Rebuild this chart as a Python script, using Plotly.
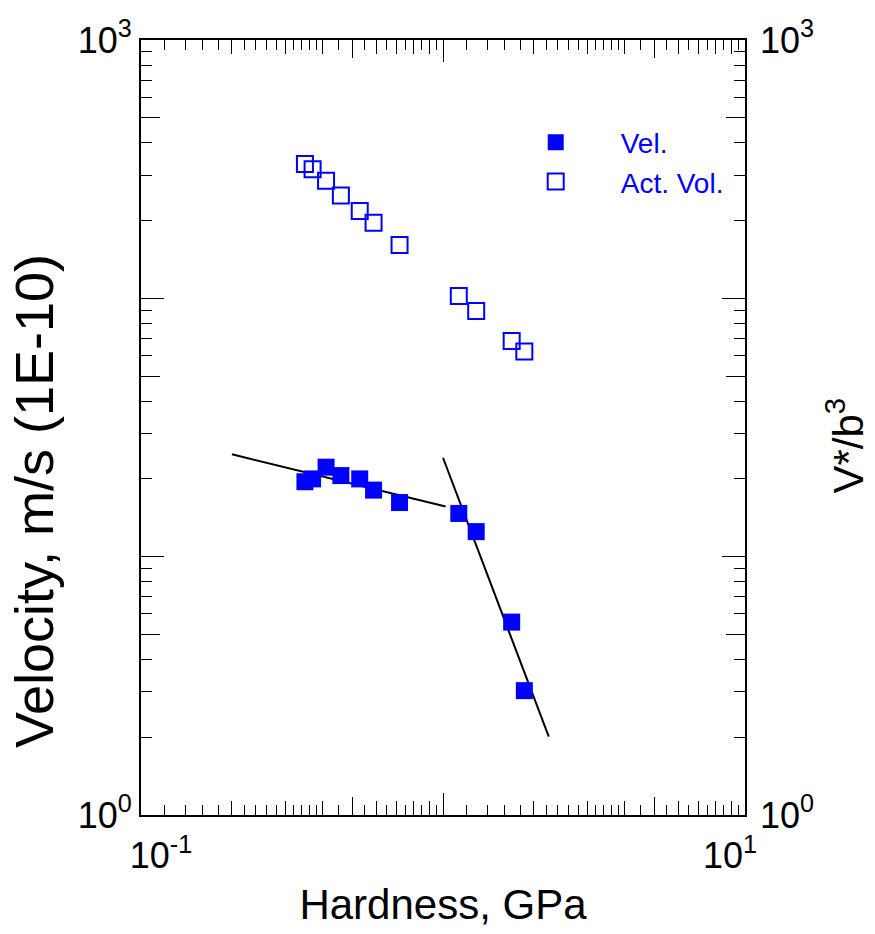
import plotly.graph_objects as go

# ---- data ----
hardness = [0.349, 0.370, 0.410, 0.459, 0.530, 0.589, 0.718, 1.128, 1.288, 1.688, 1.859]
velocity = [19.5, 20.0, 22.2, 20.6, 20.0, 18.1, 16.2, 14.7, 12.5, 5.58, 3.03]
act_vol = [331, 316, 285, 250, 218, 196, 161, 102, 89.3, 68.3, 62.3]
fit_low_x = [0.2, 1.02]
fit_low_y = [24.9, 15.65]
fit_high_x = [1.0, 2.24]
fit_high_y = [24.15, 2.01]

NB = "\u00a0"
x_decades = [0.1, 1, 10]
x_decade_text = [NB * 4 + "10<sup>-1</sup>", "", "10<sup>1</sup>" + NB * 3]
y_decades = [1, 10, 100, 1000]
y_decade_text = ["10<sup>0</sup>", "", "", "10<sup>3</sup>"]

x_sub_mult = [1.2, 1.4, 1.6, 1.8, 2.2, 2.4, 2.6, 2.8, 3.2, 3.4, 3.6, 3.8, 4.5, 5.5, 6.5, 7.5, 8.5, 9.5]
int_mult = [2, 3, 4, 6, 7, 8, 9]
half_mult = [5]

x_sub = [m * d for d in [0.1, 1] for m in x_sub_mult]
x_int = [m * d for d in [0.1, 1] for m in int_mult]
x_half = [m * d for d in [0.1, 1] for m in half_mult]
y_int = [m * d for d in [1, 10, 100] for m in int_mult]
y_half = [m * d for d in [1, 10, 100] for m in half_mult]

FONT = "Liberation Sans, Arial, sans-serif"
BLUE = "#0000ff"

fig = go.Figure()

fig.add_trace(go.Scatter(x=fit_low_x, y=fit_low_y, mode="lines",
                         line=dict(color="black", width=2), showlegend=False, hoverinfo="skip"))
fig.add_trace(go.Scatter(x=fit_high_x, y=fit_high_y, mode="lines",
                         line=dict(color="black", width=2), showlegend=False, hoverinfo="skip"))
fig.add_trace(go.Scatter(x=hardness, y=velocity, mode="markers", name="Vel.",
                         marker=dict(symbol="square", size=17, color=BLUE, line=dict(width=0))))
fig.add_trace(go.Scatter(x=hardness, y=act_vol, mode="markers", name="Act. Vol.",
                         marker=dict(symbol="square-open", size=16, color=BLUE, line=dict(width=2, color=BLUE))))
# invisible carriers for the overlay axes (tick decoration only)
fig.add_trace(go.Scatter(x=hardness, y=velocity, xaxis="x2", yaxis="y3", mode="markers",
                         marker=dict(opacity=0), showlegend=False, hoverinfo="skip"))
fig.add_trace(go.Scatter(x=hardness, y=act_vol, xaxis="x", yaxis="y2", mode="markers",
                         marker=dict(opacity=0), showlegend=False, hoverinfo="skip"))

tickfont = dict(family=FONT, size=36, color="black")

fig.update_layout(
    width=875, height=934,
    margin=dict(l=141, r=130, t=40, b=119),
    paper_bgcolor="white", plot_bgcolor="white",
    font=dict(family=FONT, color="black"),
    xaxis=dict(type="log", range=[-1, 1], showgrid=False, zeroline=False,
               showline=True, linecolor="black", linewidth=2, mirror="ticks",
               ticks="inside", tickmode="array", tickvals=x_decades, ticktext=x_decade_text,
               ticklen=22, tickwidth=1, tickcolor="black", tickfont=tickfont,
               ticklabelstandoff=8,
               minor=dict(tickmode="array", tickvals=x_sub, ticks="inside", ticklen=10,
                          tickwidth=1, tickcolor="black", showgrid=False),
               title=dict(text="Hardness, GPa", font=dict(family=FONT, size=42), standoff=14)),
    xaxis2=dict(type="log", range=[-1, 1], overlaying="x", anchor="y", side="bottom",
                showgrid=False, zeroline=False, showline=False, mirror="ticks",
                ticks="inside", tickmode="array", tickvals=x_half, ticklen=18, tickwidth=1,
                tickcolor="black", showticklabels=False,
                minor=dict(tickmode="array", tickvals=x_int, ticks="inside", ticklen=14,
                           tickwidth=1, tickcolor="black", showgrid=False)),
    yaxis=dict(type="log", range=[0, 3], showgrid=False, zeroline=False,
               showline=True, linecolor="black", linewidth=2, mirror="ticks",
               ticks="inside", tickmode="array", tickvals=y_decades, ticktext=y_decade_text,
               ticklen=23, tickwidth=1, tickcolor="black", tickfont=tickfont,
               minor=dict(tickmode="array", tickvals=y_int, ticks="inside", ticklen=11,
                          tickwidth=1, tickcolor="black", showgrid=False)),
    yaxis2=dict(type="log", range=[0, 3], overlaying="y", side="right", anchor="x",
                showgrid=False, zeroline=False, showline=False, ticks="",
                tickmode="array", tickvals=y_decades, ticktext=y_decade_text, tickfont=tickfont,
                ticklabelstandoff=14),
    yaxis3=dict(type="log", range=[0, 3], overlaying="y", side="left", anchor="x",
                showgrid=False, zeroline=False, showline=False, mirror="ticks",
                ticks="inside", tickmode="array", tickvals=y_half, ticklen=19, tickwidth=1,
                tickcolor="black", showticklabels=False),
    legend=dict(x=0.579, y=0.9, xanchor="left", yanchor="top", bgcolor="rgba(0,0,0,0)",
                font=dict(family=FONT, size=28, color=BLUE), itemwidth=120,
                tracegroupgap=0),
    annotations=[
        dict(text="Ag", x=0.2, y=3.48, xref="x", yref="y", showarrow=False,
             xanchor="left", yanchor="middle", font=dict(family=FONT, size=32, color="black")),
        dict(text="Velocity, m/s (1E-10)", x=-0.1772, y=0.405, xref="paper", yref="paper",
             showarrow=False, textangle=-90, xanchor="center", yanchor="middle",
             font=dict(family=FONT, size=54, color="black")),
        dict(text="V*/b<sup>3</sup>", x=1.166, y=0.477, xref="paper", yref="paper",
             showarrow=False, textangle=-90, xanchor="center", yanchor="middle",
             font=dict(family=FONT, size=42, color="black")),
    ],
)

fig.write_html("out.html")
